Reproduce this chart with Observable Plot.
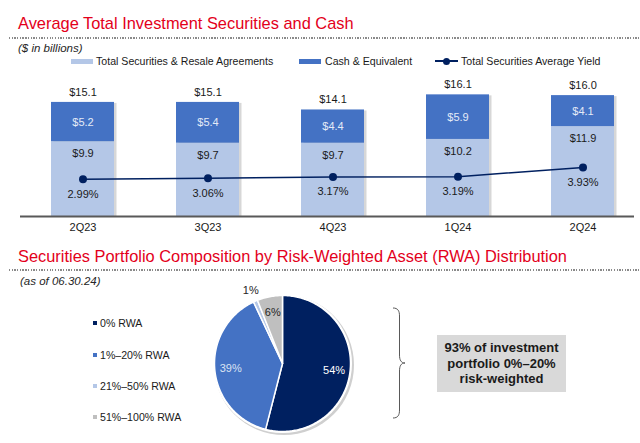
<!DOCTYPE html>
<html>
<head>
<meta charset="utf-8">
<script src="https://cdn.jsdelivr.net/npm/d3@7"></script>
<script src="https://cdn.jsdelivr.net/npm/@observablehq/plot@0.6"></script>
<style>
  html, body { margin: 0; padding: 0; background: #fff; }
  body { width: 640px; height: 443px; position: relative; overflow: hidden;
         font-family: "Liberation Sans", Arial, sans-serif; color: #1a1a1a; }
  .abs { position: absolute; white-space: nowrap; }
  .title { color: #e3001b; font-size: 16.4px; line-height: 20px; }
  .sub { font-style: italic; font-size: 11.5px; line-height: 14px; color: #262626; }
  .dots { height: 1.5px; background-image: repeating-linear-gradient(to right, #8a8a8a 0 1.3px, transparent 1.3px 2.7px); }
  .leg { font-size: 10.6px; line-height: 14px; color: #1a1a1a; }
  .sw { position: absolute; }
  #topChart, #pieChart { position: absolute; }
  .box { background: #d9d9d9; font-weight: bold; font-size: 13px; line-height: 15.5px;
         text-align: center; color: #1a1a1a; box-sizing: border-box; padding-top: 5px; }
</style>
</head>
<body>
<div class="abs title" style="left:18px; top:12.5px;">Average Total Investment Securities and Cash</div>
<div class="abs dots" style="left:9px; top:37px; width:631px;"></div>
<div class="abs sub" style="left:18px; top:40.5px;">($ in billions)</div>
<div id="topLegend"></div>
<div id="topChart" style="left:0px; top:70px;"></div>

<div class="abs title" style="left:18px; top:246px;">Securities Portfolio Composition by Risk-Weighted Asset (RWA) Distribution</div>
<div class="abs dots" style="left:9px; top:269px; width:631px;"></div>
<div class="abs sub" style="left:20px; top:274px;">(as of 06.30.24)</div>
<div id="pieLegend"></div>
<div id="pieChart" style="left:182px; top:283px;"></div>
<svg class="abs" style="left:0; top:0;" width="640" height="443" pointer-events="none">
  <path d="M393,308 C398,308 399.5,311 399.5,316 L399.5,355 C399.5,360 401,363 405,363 C401,363 399.5,366 399.5,371 L399.5,410 C399.5,415 398,418 393,418" fill="none" stroke="#595959" stroke-width="1"/>
</svg>
<div class="abs box" style="left:437px; top:335px; width:129px; height:57px;">93% of investment<br>portfolio 0%–20%<br>risk-weighted</div>

<script>
// ---- Data ----
const quarters   = ["2Q23", "3Q23", "4Q23", "1Q24", "2Q24"];
const securities = [9.9, 9.7, 9.7, 10.2, 11.9];   // Total Securities & Resale Agreements ($B)
const cash       = [5.2, 5.4, 4.4, 5.9, 4.1];     // Cash & Equivalent ($B)
const totals     = [15.1, 15.1, 14.1, 16.1, 16.0];
const yields     = [2.99, 3.06, 3.17, 3.19, 3.93]; // Total Securities Average Yield (%)
const seriesNames = ["Total Securities & Resale Agreements", "Cash & Equivalent"];
const seriesColors = ["#b4c7e7", "#4472c4"];
const yieldName = "Total Securities Average Yield";

const rwaCategories = ["0% RWA", "1%–20% RWA", "21%–50% RWA", "51%–100% RWA"];
const rwaShares     = [54, 39, 1, 6];
const rwaColors     = ["#002060", "#4472c4", "#b4c7e7", "#bfbfbf"];
const rwaLabelColors = ["#ffffff", "#dae3f3", "#262626", "#262626"];

// secondary (yield) axis expressed in the primary $ axis: 1% of yield ≈ 1.654 $B of height
const YIELD_TO_Y = 1.654;

const FONT = '"Liberation Sans", Arial, sans-serif';

// ---- Top legend ----
const tl = document.getElementById("topLegend");
const legItems = [
  {sw: 71, tx: 96, kind: "bar", color: seriesColors[0], label: seriesNames[0]},
  {sw: 299, tx: 325, kind: "bar", color: seriesColors[1], label: seriesNames[1]},
  {sw: 435, tx: 461, kind: "line", color: "#002060", label: yieldName}
];
for (const it of legItems) {
  if (it.kind === "bar") {
    const s = document.createElement("div");
    s.className = "sw"; s.style.cssText = `left:${it.sw}px;top:58.5px;width:22px;height:5px;background:${it.color}`;
    tl.appendChild(s);
  } else {
    const l = document.createElement("div");
    l.className = "sw"; l.style.cssText = `left:${it.sw}px;top:60.3px;width:23px;height:1.5px;background:${it.color}`;
    tl.appendChild(l);
    const d = document.createElement("div");
    d.className = "sw"; d.style.cssText = `left:${it.sw + 8}px;top:57.5px;width:7px;height:7px;border-radius:50%;background:${it.color}`;
    tl.appendChild(d);
  }
  const t = document.createElement("div");
  t.className = "abs leg"; t.style.left = it.tx + "px"; t.style.top = "54px"; t.textContent = it.label;
  tl.appendChild(t);
}

// ---- Top chart ----
const rows = quarters.flatMap((q, i) => [
  {q, series: seriesNames[0], value: securities[i]},
  {q, series: seriesNames[1], value: cash[i]}
]);
const perQ = quarters.map((q, i) => ({q, sec: securities[i], cash: cash[i], total: totals[i], yld: yields[i]}));

const barChart = Plot.plot({
  width: 640, height: 170,
  marginTop: 10, marginBottom: 24, marginLeft: 26, marginRight: 1,
  style: {fontFamily: FONT, fontSize: "11px", color: "#1a1a1a", background: "transparent", overflow: "visible"},
  x: {domain: quarters, paddingInner: 0.496, paddingOuter: 0.2, label: null, tickSize: 0, tickPadding: 7},
  y: {domain: [0, 18], axis: null},
  color: {domain: seriesNames, range: seriesColors},
  marks: [
    Plot.barY(perQ, {x: "q", y: "total", fill: "#9a9a9a", fillOpacity: 0.4, dx: 2.5, dy: 1}),
    Plot.barY(rows, {x: "q", y: "value", fill: "series"}),
    Plot.ruleY([0], {stroke: "#595959", strokeWidth: 2, insetLeft: -6, insetRight: 5}),
    Plot.text(perQ, {x: "q", y: "total", text: d => "$" + d.total.toFixed(1), dy: -10, fontSize: 11, fill: "#1a1a1a"}),
    Plot.text(perQ, {x: "q", y: d => d.sec + d.cash / 2, text: d => "$" + d.cash.toFixed(1), fontSize: 11, fill: "#e4ebf7"}),
    Plot.text(perQ, {x: "q", y: "sec", text: d => "$" + d.sec.toFixed(1), dy: 12, fontSize: 11, fill: "#1a1a1a"}),
    Plot.line(perQ, {x: "q", y: d => d.yld * YIELD_TO_Y, stroke: "#002060", strokeWidth: 1.5}),
    Plot.dot(perQ, {x: "q", y: d => d.yld * YIELD_TO_Y, r: 4, fill: "#002060", stroke: "none"}),
    Plot.text(perQ, {x: "q", y: d => d.yld * YIELD_TO_Y, text: d => d.yld.toFixed(2) + "%", dy: 15, fontSize: 11, fill: "#1a1a1a"})
  ]
});
document.getElementById("topChart").appendChild(barChart);

// ---- Pie legend ----
const pl = document.getElementById("pieLegend");
const legY = [323, 355, 386, 417];
rwaCategories.forEach((c, i) => {
  const s = document.createElement("div");
  s.className = "sw"; s.style.cssText = `left:93px;top:${legY[i] - 2}px;width:4px;height:4px;background:${rwaColors[i]}`;
  pl.appendChild(s);
  const t = document.createElement("div");
  t.className = "abs leg"; t.style.left = "100px"; t.style.top = (legY[i] - 7) + "px"; t.textContent = c;
  pl.appendChild(t);
});

// ---- Pie chart ----
const R = 68;
const arcs = d3.pie().sort(null).value(d => d.share)(rwaCategories.map((c, i) => ({c, share: rwaShares[i], i})));
function slicePoints(a) {
  const pts = [{x: 0, y: 0}];
  const n = Math.max(2, Math.ceil((a.endAngle - a.startAngle) / (Math.PI / 180)));
  for (let k = 0; k <= n; k++) {
    const t = a.startAngle + (a.endAngle - a.startAngle) * k / n;
    pts.push({x: R * Math.sin(t), y: R * Math.cos(t)});
  }
  pts.push({x: 0, y: 0});
  return pts;
}
const pieLabels = arcs.map(a => {
  const mid = (a.startAngle + a.endAngle) / 2;
  const rr = a.data.share < 3 ? 80 : 52;
  return {x: rr * Math.sin(mid), y: rr * Math.cos(mid), text: a.data.share + "%", i: a.data.i, outside: a.data.share < 3};
});

const pieChart = Plot.plot({
  width: 200, height: 160, margin: 0,
  style: {fontFamily: FONT, background: "transparent", overflow: "visible"},
  x: {domain: [-100, 100], axis: null},
  y: {domain: [-80, 80], axis: null},
  marks: [
    Plot.dot([{x: 0, y: 0}], {x: "x", y: "y", r: R + 2, fill: "#cfcfcf", stroke: "none", dx: 1.5, dy: 1.5}),
    Plot.dot([{x: 0, y: 0}], {x: "x", y: "y", r: R + 1.5, fill: "#ffffff", stroke: "none"}),
    ...arcs.map(a => Plot.line(slicePoints(a), {x: "x", y: "y", fill: rwaColors[a.data.i], stroke: "#ffffff", strokeWidth: 1.5, strokeLinejoin: "round"})),
    Plot.text(pieLabels, {x: "x", y: "y", text: "text", fontSize: 11, fill: d => d.outside ? "#262626" : rwaLabelColors[d.i]})
  ]
});
document.getElementById("pieChart").appendChild(pieChart);
</script>
</body>
</html>
